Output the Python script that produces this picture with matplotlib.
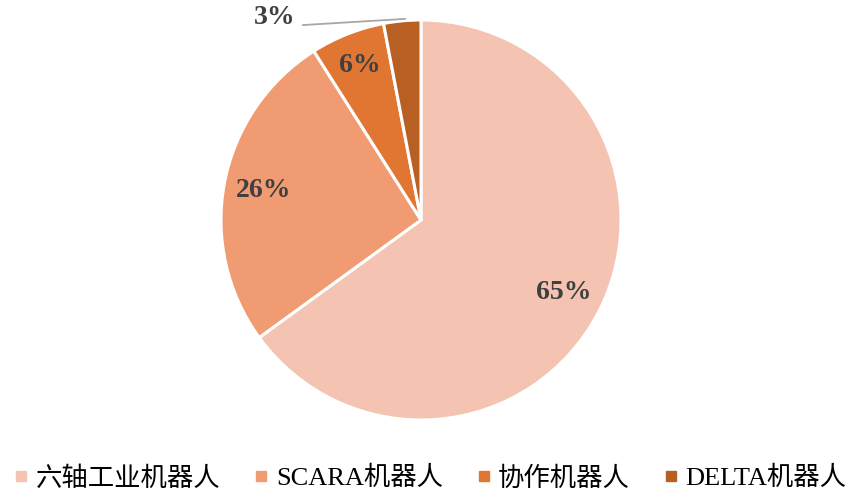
import matplotlib
matplotlib.use("Agg")
import matplotlib.pyplot as plt
from matplotlib.lines import Line2D
import numpy as np

plt.rcParams['font.family'] = ['Liberation Serif', 'Noto Sans CJK SC', 'DejaVu Sans']

categories = ['六轴工业机器人', 'SCARA机器人', '协作机器人', 'DELTA机器人']
values = [65, 26, 6, 3]
labels = ['65%', '26%', '6%', '3%']
colors = ['#F5C3B1', '#F09B72', '#E07631', '#B85F24']

W, H = 856, 495
fig = plt.figure(figsize=(W / 100, H / 100), dpi=100)
cx, cy, R = 421, 220, 200
ax = fig.add_axes([(cx - R) / W, (H - cy - R) / H, 2 * R / W, 2 * R / H])

wedges, _ = ax.pie(values, colors=colors, startangle=90, counterclock=False,
                   radius=1.0,
                   wedgeprops=dict(edgecolor='white', linewidth=2.2))
ax.set_xlim(-1, 1)
ax.set_ylim(-1, 1)
ax.set_aspect('equal')
ax.axis('off')

label_r = [0.80, 0.80, 0.83]
for w, lab, r in zip(wedges[:3], labels[:3], label_r):
    ang = np.deg2rad((w.theta1 + w.theta2) / 2)
    ax.text(r * np.cos(ang), r * np.sin(ang), lab, ha='center', va='center',
            fontsize=20, fontweight='bold', color='#404040')

# outside label for the smallest slice with leader line
w = wedges[3]
ang = np.deg2rad((w.theta1 + w.theta2) / 2)
ex, ey = 1.0 * np.cos(ang) + 0.015, 1.0 * np.sin(ang) + 0.01
ax.annotate(labels[3], xy=(ex, ey), xytext=(-0.73, 1.01),
            ha='center', va='center', fontsize=20, fontweight='bold',
            color='#404040', annotation_clip=False,
            arrowprops=dict(arrowstyle='-', color='#A6A6A6', lw=1.3,
                            shrinkA=3, shrinkB=0, relpos=(1.0, 0.2)))

handles = [Line2D([0], [0], marker='s', linestyle='none', markersize=7,
                  markerfacecolor=c, markeredgecolor=c) for c in colors]
fig.legend(handles, categories, loc='center', bbox_to_anchor=(0.503, 0.034),
           ncol=4, frameon=False, fontsize=19, handlelength=0.5,
           handletextpad=0.3, columnspacing=1.3, borderpad=0)

fig.savefig('out.png', dpi=100)
